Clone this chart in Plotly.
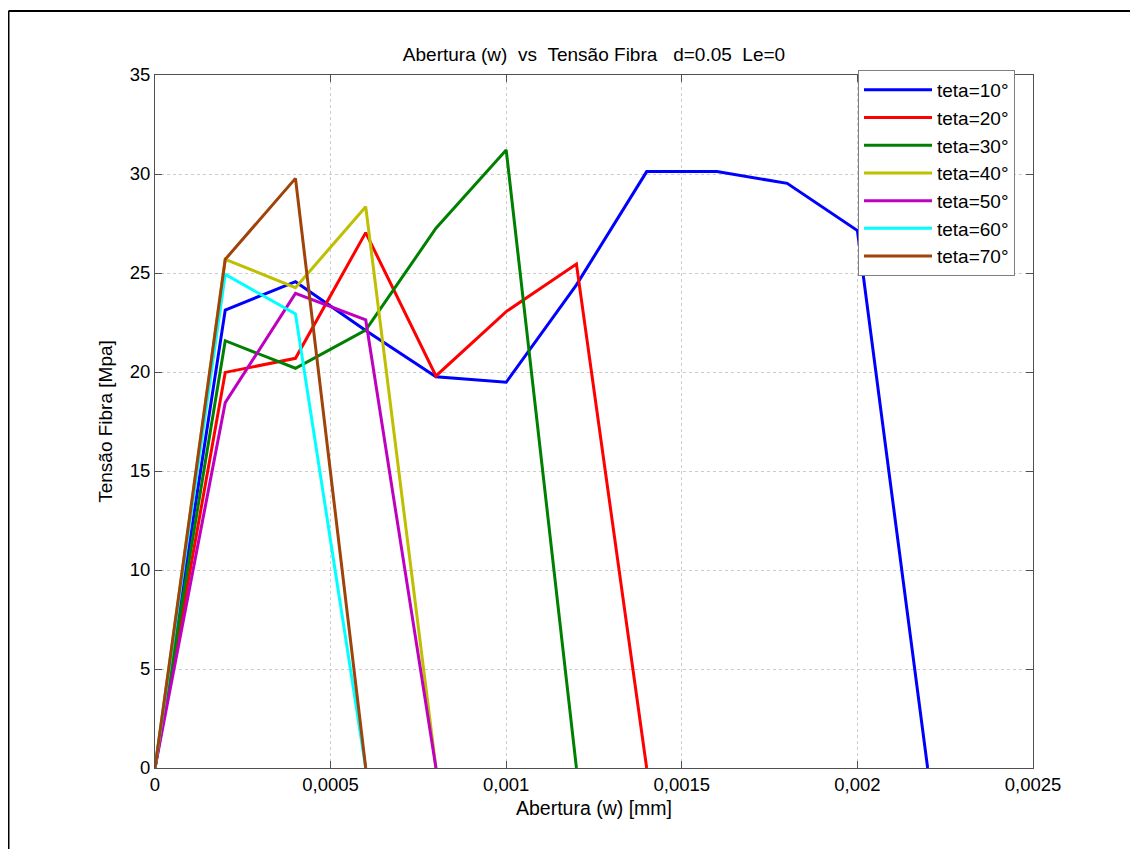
import plotly.graph_objects as go

w_points = [0, 0.0002, 0.0004, 0.0006, 0.0008, 0.001, 0.0012, 0.0014, 0.0016, 0.0018, 0.002, 0.0022]

teta10 = [0, 23.13, 24.56, 22.1, 19.76, 19.48, 24.4, 30.12, 30.12, 29.53, 27.14, 0]
teta20 = [0, 19.98, 20.69, 27.04, 19.8, 23.05, 25.45, 0]
teta30 = [0, 21.58, 20.19, 22.12, 27.26, 31.21, 0]
teta40 = [0, 25.69, 24.26, 28.35, 0]
teta50 = [0, 18.45, 23.97, 22.63, 0]
teta60 = [0, 24.93, 22.93, 0]
teta70 = [0, 25.69, 29.78, 0]

series_names = ["teta=10°", "teta=20°", "teta=30°", "teta=40°", "teta=50°", "teta=60°", "teta=70°"]
series_values = [teta10, teta20, teta30, teta40, teta50, teta60, teta70]
series_colors = ["#0000ff", "#ff0000", "#008000", "#bfbf00", "#bf00bf", "#00ffff", "#a0430a"]

x_tickvals = [0, 0.0005, 0.001, 0.0015, 0.002, 0.0025]
x_ticktext = ["0", "0,0005", "0,001", "0,0015", "0,002", "0,0025"]
y_tickvals = [0, 5, 10, 15, 20, 25, 30, 35]

NB = "\u00a0"
title_text = ("Abertura (w)" + NB * 2 + "vs" + NB * 2 + "Tensão Fibra" + NB * 3
              + "d=0.05" + NB * 2 + "Le=0")

fig = go.Figure()
for name, vals, col in zip(series_names, series_values, series_colors):
    fig.add_trace(go.Scatter(
        x=w_points[:len(vals)], y=vals, mode="lines", name=name,
        line=dict(color=col, width=3),
    ))

font_family = "Liberation Sans, Arial, sans-serif"

# page is offset by 8px body margin; plot area in page: x 155-1033, y 75-768
L, T, PW, PH = 147, 67, 878, 693
W, H = 1122, 841

axis_common = dict(
    showline=True, linecolor="#505050", linewidth=1, mirror="ticks",
    ticks="inside", ticklen=7, tickcolor="#505050",
    showgrid=True, gridcolor="#cccccc", griddash="dot", gridwidth=1,
    zeroline=False, tickfont=dict(size=18.5, color="black", family=font_family),
)

fig.update_layout(
    width=W, height=H,
    margin=dict(l=L, r=W - L - PW, t=T, b=H - T - PH),
    paper_bgcolor="white", plot_bgcolor="white",
    font=dict(family=font_family, color="black"),
    title=dict(text=title_text,
               x=(L + PW / 2) / W, xanchor="center",
               y=1 - 46 / H, yanchor="middle",
               font=dict(size=19, color="black", family=font_family)),
    xaxis=dict(range=[0, 0.0025], tickvals=x_tickvals, ticktext=x_ticktext,
               title=dict(text="Abertura (w) [mm]", font=dict(size=19.5), standoff=7),
               **axis_common),
    yaxis=dict(range=[0, 35], tickvals=y_tickvals,
               title=dict(text="Tensão Fibra [Mpa]", font=dict(size=19), standoff=12),
               **axis_common),
    legend=dict(x=(850 - L) / PW, y=(T + PH - 62) / PH, xanchor="left", yanchor="top",
                bgcolor="white", bordercolor="#808080", borderwidth=1,
                font=dict(size=19, color="black", family=font_family),
                tracegroupgap=0, itemwidth=68),
    showlegend=True,
)

# outer figure frame: only the top and left edges are visible
frame_top = (T + PH - 3) / PH
frame_left = (0.5 - L) / PW
fig.add_shape(type="line", xref="paper", yref="paper",
              x0=frame_left, x1=(W - L) / PW, y0=frame_top, y1=frame_top,
              line=dict(color="black", width=2), layer="below")
fig.add_shape(type="line", xref="paper", yref="paper",
              x0=frame_left, x1=frame_left, y0=frame_top, y1=(T + PH - H) / PH,
              line=dict(color="black", width=2), layer="below")

fig.write_html("out.html")
